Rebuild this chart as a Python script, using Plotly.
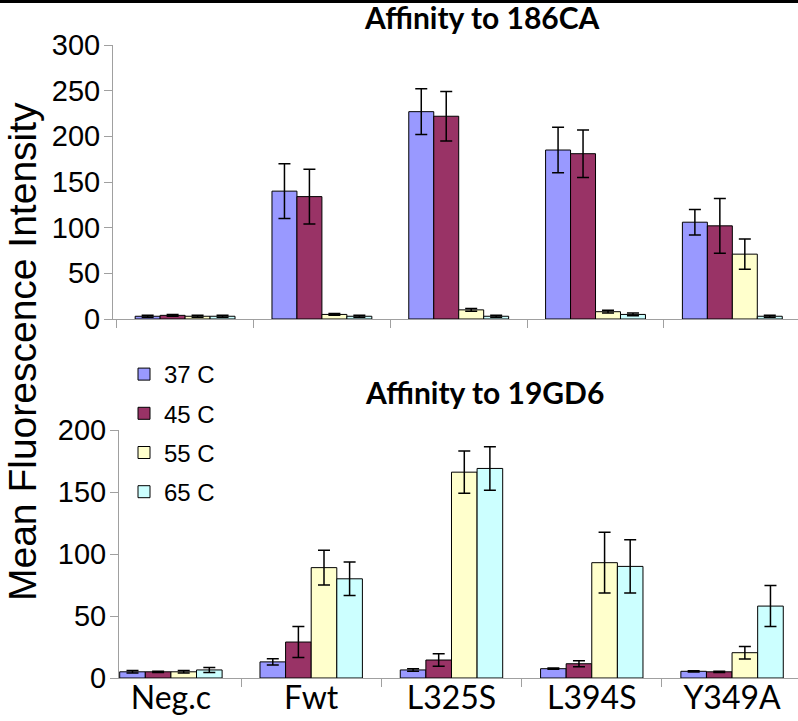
import plotly.graph_objects as go

categories = ["Neg.c", "Fwt", "L325S", "L394S", "Y349A"]
temps = ["37 C", "45 C", "55 C", "65 C"]
colors = ["#9999FF", "#993366", "#FFFFCC", "#CCFFFF"]

# Affinity to 186CA
top_37 = [3, 140, 227, 185, 106]
top_45 = [4, 134, 222, 181, 102]
top_55 = [3, 5, 10, 8, 71]
top_65 = [3, 3, 3, 5, 3]
top_37_err = [1, 30, 25, 25, 14]
top_45_err = [1, 30, 27, 26, 30]
top_55_err = [1, 1, 1.5, 1.5, 16.5]
top_65_err = [1, 1, 1, 1.5, 1]

# Affinity to 19GD6
bot_37 = [5, 13, 6.5, 7.5, 5.4]
bot_45 = [5, 29, 14.5, 11.5, 5]
bot_55 = [5, 89, 166, 93, 20.4]
bot_65 = [6.5, 80, 169, 90, 58]
bot_37_err = [1, 2.5, 1, 0.5, 0.5]
bot_45_err = [0.5, 12.5, 5, 2.5, 0.5]
bot_55_err = [1, 14, 17, 24.5, 5]
bot_65_err = [2, 13.5, 17.5, 21.5, 16.5]

top_vals = [top_37, top_45, top_55, top_65]
top_errs = [top_37_err, top_45_err, top_55_err, top_65_err]
bot_vals = [bot_37, bot_45, bot_55, bot_65]
bot_errs = [bot_37_err, bot_45_err, bot_55_err, bot_65_err]

W, H = 798, 721
fig = go.Figure()

for i, t in enumerate(temps):
    fig.add_trace(go.Bar(
        x=categories, y=top_vals[i], name=t, showlegend=False,
        marker=dict(color=colors[i], line=dict(color="black", width=1)),
        error_y=dict(type="data", array=top_errs[i], color="black", thickness=1.5, width=6),
        xaxis="x", yaxis="y",
    ))
for i, t in enumerate(temps):
    fig.add_trace(go.Bar(
        x=categories, y=bot_vals[i], name=t, showlegend=True, legendgroup=t,
        marker=dict(color=colors[i], line=dict(color="black", width=1)),
        error_y=dict(type="data", array=bot_errs[i], color="black", thickness=1.5, width=6),
        xaxis="x2", yaxis="y2",
    ))

axis_gray = "#A0A0A0"
tickfont = dict(family="Liberation Sans, Arial", size=29, color="black")

fig.update_layout(
    width=W, height=H,
    margin=dict(l=0, r=0, t=0, b=0, autoexpand=False),
    paper_bgcolor="white", plot_bgcolor="white",
    barmode="group", bargap=0.27, bargroupgap=0,
    xaxis=dict(domain=[113 / W, 1.0], range=[-0.527, 4.48], anchor="y", automargin=False,
               showticklabels=False, ticks="outside", tickson="boundaries",
               ticklen=8, tickcolor=axis_gray, showline=True, linecolor=axis_gray,
               showgrid=False, zeroline=False),
    yaxis=dict(domain=[1 - 319 / H, 1 - 45 / H], range=[0, 300], anchor="x", automargin=False,
               tickvals=[0, 50, 100, 150, 200, 250, 300], ticks="outside",
               ticklen=8, tickcolor=axis_gray, showline=True, linecolor=axis_gray,
               showgrid=False, zeroline=False, tickfont=tickfont, ticklabelstandoff=-2),
    xaxis2=dict(domain=[119 / W, 1.0], range=[-0.37, 4.47], anchor="y2", automargin=False,
                ticks="outside", tickson="boundaries",
                ticklen=8, tickcolor=axis_gray, showline=True, linecolor=axis_gray,
                showgrid=False, zeroline=False, ticklabelstandoff=-8,
                tickfont=dict(family="Lato", size=32, color="black")),
    yaxis2=dict(domain=[1 - 678 / H, 1 - 430 / H], range=[0, 200], anchor="x2", automargin=False,
                tickvals=[0, 50, 100, 150, 200], ticks="outside",
                ticklen=8, tickcolor=axis_gray, showline=True, linecolor=axis_gray,
                showgrid=False, zeroline=False, tickfont=tickfont, ticklabelstandoff=-2),
    legend=dict(x=124 / W, y=1 - 352 / H, xanchor="left", yanchor="top",
                font=dict(family="Liberation Sans, Arial", size=24, color="black"),
                bgcolor="rgba(0,0,0,0)", tracegroupgap=5),
    shapes=[dict(type="line", xref="paper", yref="paper", x0=0, x1=1,
                 y0=1 - 1.5 / H, y1=1 - 1.5 / H, line=dict(color="black", width=3))],
    annotations=[
        dict(text="<b>Affinity to 186CA</b>", xref="paper", yref="paper",
             x=482 / W, y=1 - 17 / H, xanchor="center", yanchor="middle", showarrow=False,
             font=dict(family="Lato", size=30, color="black")),
        dict(text="<b>Affinity to 19GD6</b>", xref="paper", yref="paper",
             x=484 / W, y=1 - 392 / H, xanchor="center", yanchor="middle", showarrow=False,
             font=dict(family="Lato", size=30, color="black")),
        dict(text="Mean Fluorescence Intensity", xref="paper", yref="paper",
             x=22 / W, y=1 - 352 / H, xanchor="center", yanchor="middle", showarrow=False,
             textangle=-90, font=dict(family="Liberation Sans, Arial", size=39, color="black")),
    ],
)

fig.write_html("out.html", config={"displayModeBar": False},
               post_script="document.body.style.margin='0';")
